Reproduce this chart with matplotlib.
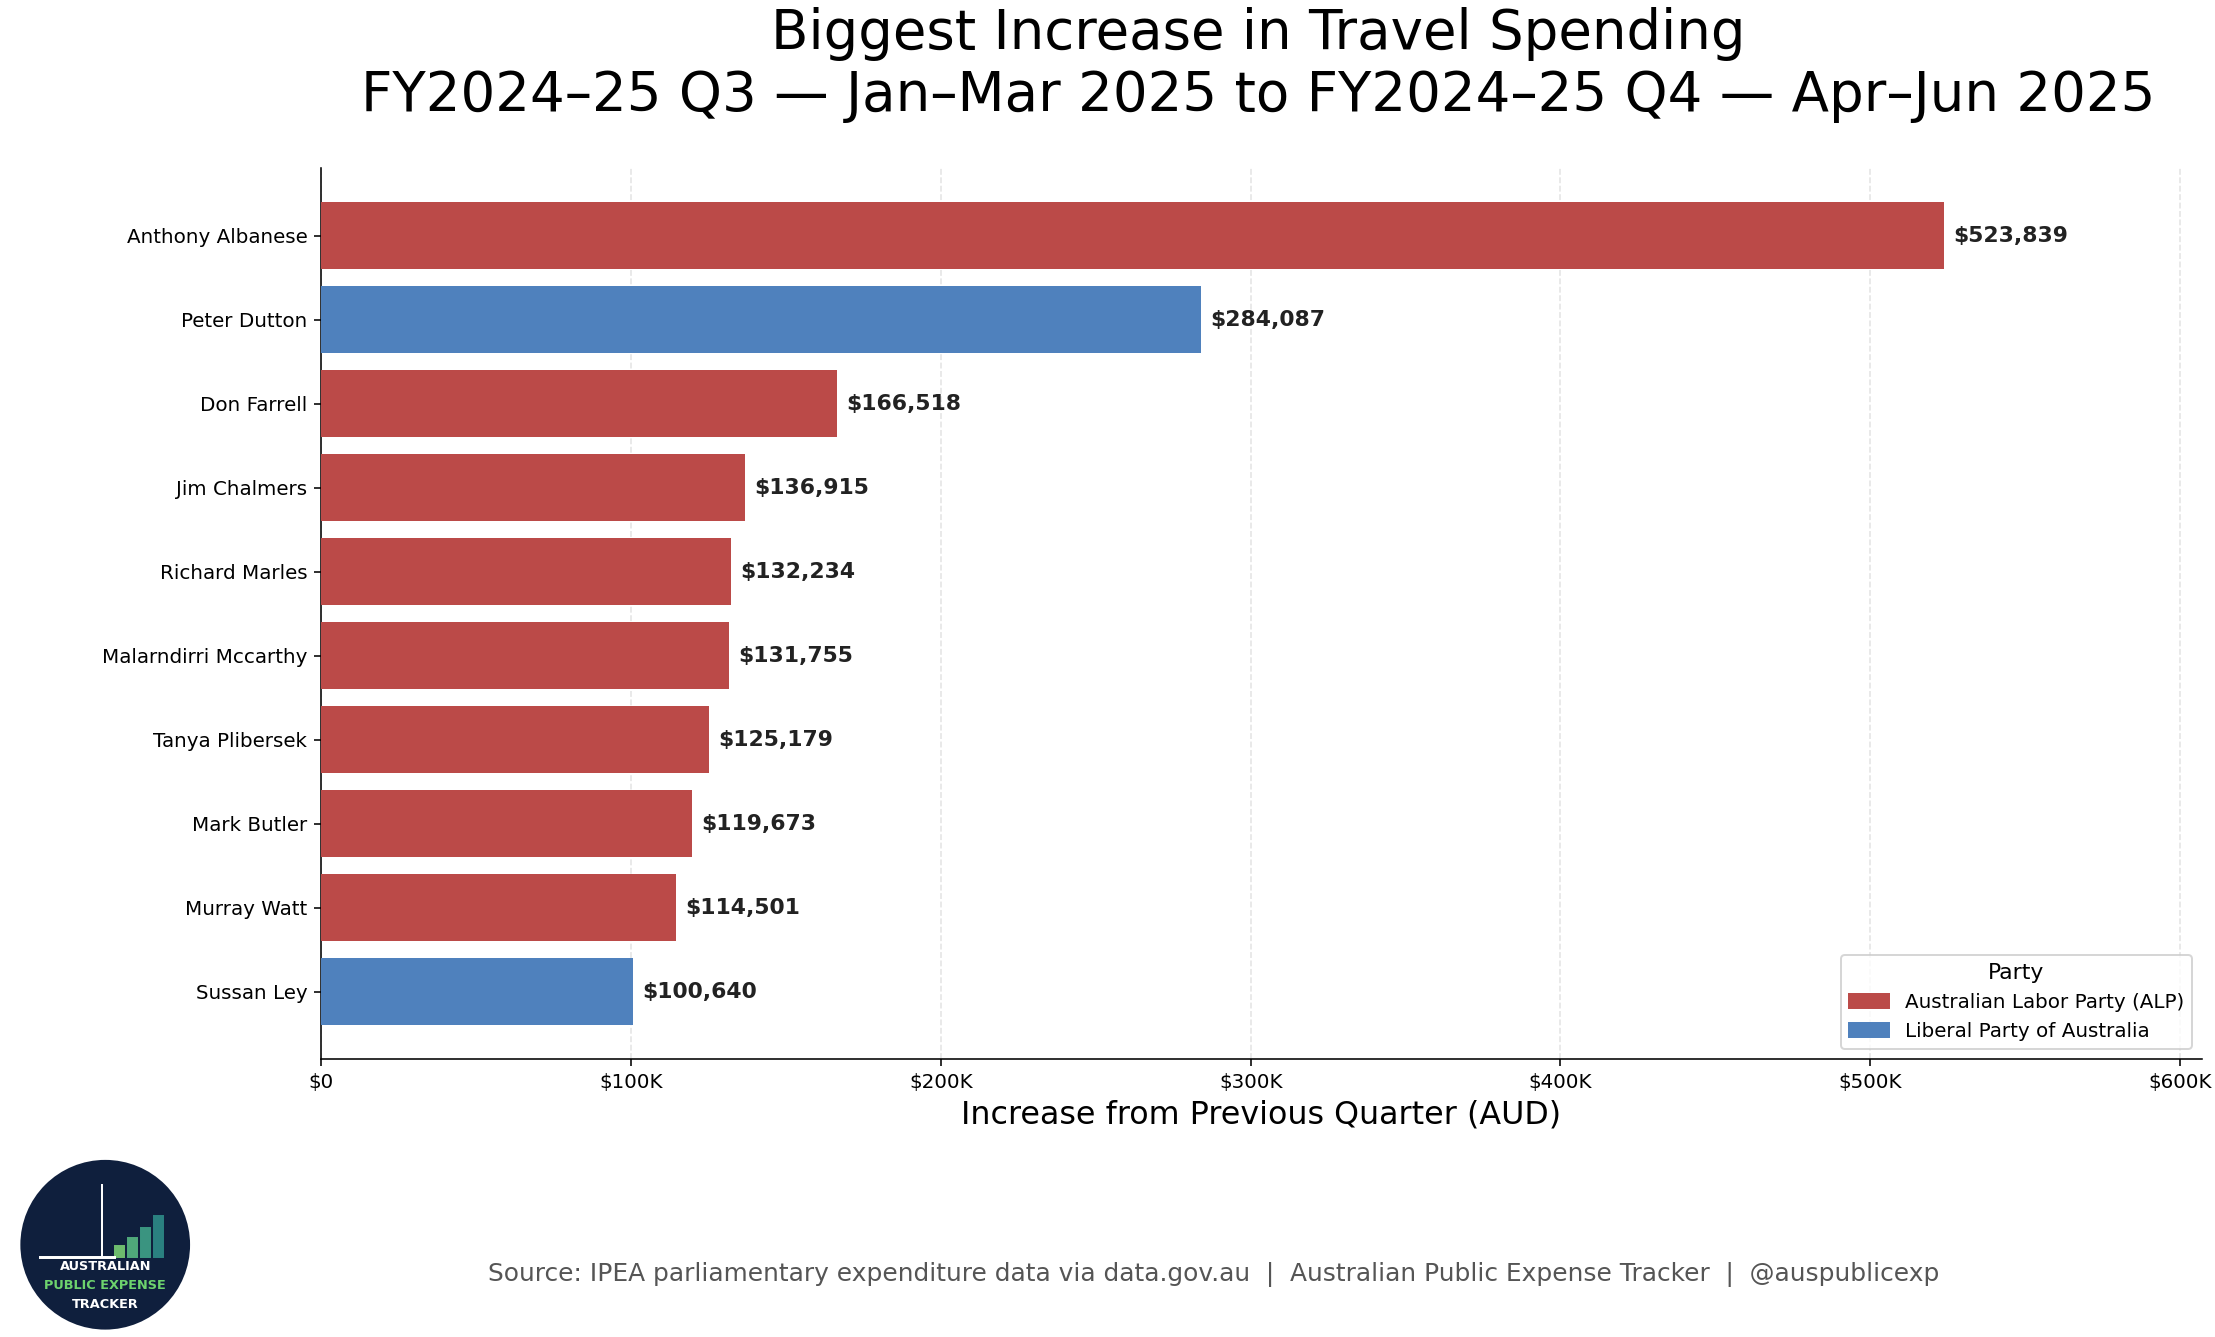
import matplotlib
matplotlib.use("Agg")
import matplotlib.pyplot as plt
from matplotlib.patches import Circle, Patch, Rectangle

names = ["Anthony Albanese", "Peter Dutton", "Don Farrell", "Jim Chalmers", "Richard Marles",
         "Malarndirri Mccarthy", "Tanya Plibersek", "Mark Butler", "Murray Watt", "Sussan Ley"]
increase = [523839, 284087, 166518, 136915, 132234, 131755, 125179, 119673, 114501, 100640]
party = ["ALP", "LIB", "ALP", "ALP", "ALP", "ALP", "ALP", "ALP", "ALP", "LIB"]
xticks = [0, 100000, 200000, 300000, 400000, 500000, 600000]
xtick_labels = ["$0", "$100K", "$200K", "$300K", "$400K", "$500K", "$600K"]

colors = {"ALP": "#bb4a48", "LIB": "#4f81bd"}
labels = {"ALP": "Australian Labor Party (ALP)", "LIB": "Liberal Party of Australia"}

fig = plt.figure(figsize=(15.49, 9.35), dpi=143)
ax = fig.add_axes([0.145, 0.208, 0.849, 0.666])

ypos = list(range(len(names)))
ax.barh(ypos, increase, color=[colors[p] for p in party], height=0.8, zorder=3)
for y, v in zip(ypos, increase):
    ax.text(v + 3000, y, f"${v:,}", va="center", ha="left", fontsize=11, fontweight="bold", color="#222222")

ax.set_yticks(ypos)
ax.set_yticklabels(names, fontsize=10)
ax.set_ylim(9.8, -0.8)
ax.set_xlim(0, 607000)
ax.set_xticks(xticks)
ax.set_xticklabels(xtick_labels, fontsize=10)
ax.grid(axis="x", linestyle="--", color="#dddddd", alpha=0.8, zorder=0)
ax.spines["top"].set_visible(False)
ax.spines["right"].set_visible(False)
ax.set_xlabel("Increase from Previous Quarter (AUD)", fontsize=16)

handles = [Patch(color=colors[k], label=labels[k]) for k in ["ALP", "LIB"]]
ax.legend(handles=handles, title="Party", loc="lower right", fontsize=10, title_fontsize=11)

fig.suptitle("Biggest Increase in Travel Spending\nFY2024\u201325 Q3 \u2014 Jan\u2013Mar 2025 to FY2024\u201325 Q4 \u2014 Apr\u2013Jun 2025",
             fontsize=27.5, x=0.568, y=0.995)

fig.text(0.548, 0.047, "Source: IPEA parliamentary expenditure data via data.gov.au  |  Australian Public Expense Tracker  |  @auspublicexp",
         ha="center", va="center", fontsize=12.5, color="#555555")

# logo
lax = fig.add_axes([0.005, 0.005, 0.085, 0.128])
lax.set_xlim(0, 1)
lax.set_ylim(0, 1)
lax.set_aspect("equal")
lax.axis("off")
lax.add_patch(Circle((0.5, 0.5), 0.49, color="#0f1f3d"))
for i, h in enumerate([0.06, 0.11, 0.17, 0.24]):
    lax.add_patch(Rectangle((0.56 + i * 0.075, 0.43), 0.05, h, color=["#6dbb6d", "#4fa87a", "#3a9480", "#2a8080"][i]))
lax.plot([0.12, 0.55], [0.43, 0.43], color="white", lw=1.5)
lax.plot([0.48, 0.48], [0.43, 0.85], color="white", lw=1)
lax.text(0.5, 0.35, "AUSTRALIAN", color="white", fontsize=6.5, fontweight="bold", ha="center")
lax.text(0.5, 0.24, "PUBLIC EXPENSE", color="#6dd36d", fontsize=6.5, fontweight="bold", ha="center")
lax.text(0.5, 0.13, "TRACKER", color="white", fontsize=6.5, fontweight="bold", ha="center")

fig.savefig("out.png", dpi=143)
